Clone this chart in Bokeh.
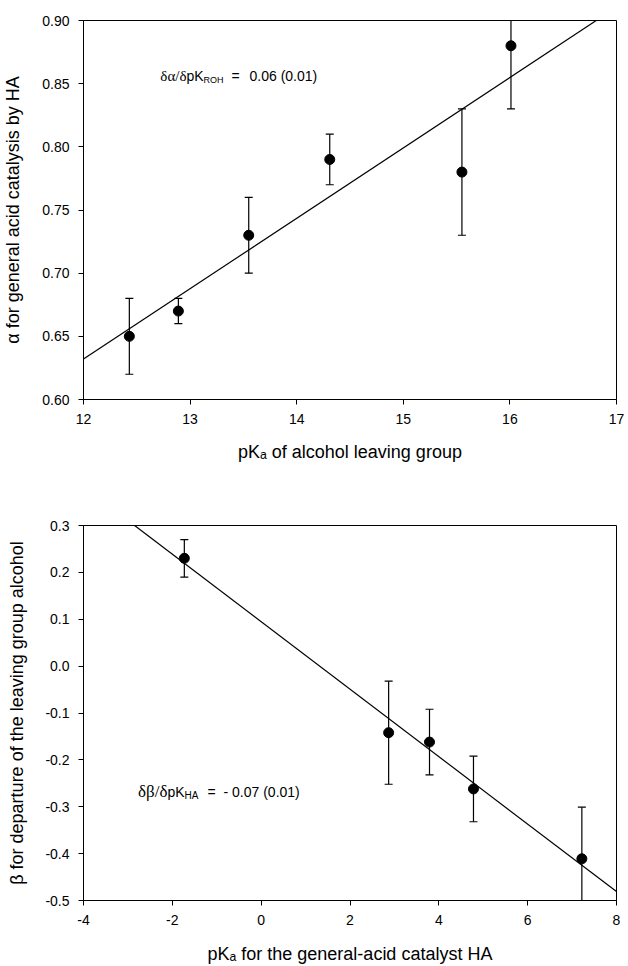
import math
from bokeh.plotting import figure
from bokeh.models import Label, FixedTicker, PrintfTickFormatter, Range1d, ColumnDataSource
from bokeh.layouts import column
from bokeh.embed import file_html
from bokeh.resources import INLINE

# ---------------- data: top panel ----------------
top_pka = [12.43, 12.89, 13.55, 14.31, 15.55, 16.01]
top_alpha = [0.65, 0.67, 0.73, 0.79, 0.78, 0.88]
top_err = [0.03, 0.01, 0.03, 0.02, 0.05, 0.05]
top_fit_x = [12.0, 16.81]
top_fit_y = [0.632, 0.90]
top_xticks = [12, 13, 14, 15, 16, 17]
top_yticks = [0.60, 0.65, 0.70, 0.75, 0.80, 0.85, 0.90]
top_xlabel = "pK\u2090 of alcohol leaving group"
top_ylabel = "\u03b1 for general acid catalysis by HA"

# ---------------- data: bottom panel ----------------
bot_pka = [-1.73, 2.87, 3.79, 4.78, 7.22]
bot_beta = [0.23, -0.142, -0.162, -0.262, -0.411]
bot_err = [0.04, 0.11, 0.07, 0.07, 0.11]
bot_fit_x = [-2.85, 8.0]
bot_fit_y = [0.30, -0.481]
bot_xticks = [-4, -2, 0, 2, 4, 6, 8]
bot_yticks = [-0.5, -0.4, -0.3, -0.2, -0.1, 0.0, 0.1, 0.2, 0.3]
bot_xlabel = "pK\u2090 for the general-acid catalyst HA"
bot_ylabel = "\u03b2 for departure of the leaving group alcohol"

SANS = "Liberation Sans"
SERIF = "Liberation Serif"


def lab(p, x, y, text, size, font=SANS, align="left"):
    p.add_layout(Label(x=x, y=y, x_units="screen", y_units="screen", text=text,
                       text_font=font, text_font_size=f"{size}px", text_color="black",
                       text_align=align, text_baseline="middle"))


def panel(xs, ys, errs, fx, fy, xticks, yticks, xfmt, yfmt, xlabel, ylabel,
          width, height, borders, xstand, ystand):
    left, right, top, bottom = borders
    p = figure(width=width, height=height, output_backend="svg", toolbar_location=None,
               x_range=Range1d(xticks[0], xticks[-1]), y_range=Range1d(yticks[0], yticks[-1]),
               min_border_left=left, min_border_right=right, min_border_top=top,
               min_border_bottom=bottom)
    p.xgrid.visible = False
    p.ygrid.visible = False
    p.background_fill_color = "white"
    p.border_fill_color = "white"
    p.outline_line_color = "black"
    p.outline_line_width = 1
    p.outline_line_alpha = 1
    for ax, ticks, fmt, title, stand in ((p.xaxis[0], xticks, xfmt, xlabel, xstand),
                                         (p.yaxis[0], yticks, yfmt, ylabel, ystand)):
        ax.ticker = FixedTicker(ticks=ticks, minor_ticks=[])
        ax.formatter = PrintfTickFormatter(format=fmt)
        ax.major_tick_in = 0
        ax.major_tick_out = 5
        ax.minor_tick_in = 0
        ax.minor_tick_out = 0
        ax.axis_line_color = "black"
        ax.major_tick_line_color = "black"
        ax.major_label_text_font = SANS
        ax.major_label_text_font_size = "14px"
        ax.major_label_text_color = "black"
        ax.major_label_standoff = 9
        ax.axis_label = title
        ax.axis_label_text_font = SANS
        ax.axis_label_text_font_size = "18px"
        ax.axis_label_text_font_style = "normal"
        ax.axis_label_text_color = "black"
        ax.axis_label_standoff = stand
    src = ColumnDataSource(dict(x=xs, y=ys,
                                lo=[y - e for y, e in zip(ys, errs)],
                                hi=[y + e for y, e in zip(ys, errs)]))
    p.line(fx, fy, line_color="black", line_width=1.2)
    p.segment(x0="x", y0="lo", x1="x", y1="hi", source=src, line_color="black", line_width=1.2)
    p.scatter(x="x", y="lo", marker="dash", size=8, line_color="black", line_width=1.2, source=src)
    p.scatter(x="x", y="hi", marker="dash", size=8, line_color="black", line_width=1.2, source=src)
    p.scatter(x="x", y="y", marker="circle", size=10, fill_color="black", line_color="black", source=src)
    return p


# top figure: frame x 82..621, y 20..399 in a 628x480 figure
p1 = panel(top_pka, top_alpha, top_err, top_fit_x, top_fit_y, top_xticks, top_yticks,
           "%d", "%.2f", top_xlabel, top_ylabel, 628, 480, (82, 7, 20, 81), 15, 16)
lab(p1, 103, 324, "\u03b4\u03b1/\u03b4", 15, font=SERIF, align="right")
lab(p1, 103, 324, "pK", 14)
lab(p1, 120, 320, "ROH", 9)
lab(p1, 148, 324, "=", 14)
lab(p1, 166, 324, "0.06 (0.01)", 14)

# bottom figure: frame x 78..616, y 525..903 (relative 45..423) in a 628x486 figure
p2 = panel(bot_pka, bot_beta, bot_err, bot_fit_x, bot_fit_y, bot_xticks, bot_yticks,
           "%d", "%.1f", bot_xlabel, bot_ylabel, 628, 486, (78, 12, 45, 63), 16, 15)
lab(p2, 84, 109, "\u03b4\u03b2/\u03b4", 17, font=SERIF, align="right")
lab(p2, 84, 109, "pK", 14)
lab(p2, 101, 105, "HA", 10)
lab(p2, 124, 109, "=", 14)
lab(p2, 140, 109, "- 0.07 (0.01)", 14)

layout = column(p1, p2, spacing=0)
open("out.html", "w").write(file_html(layout, INLINE))
